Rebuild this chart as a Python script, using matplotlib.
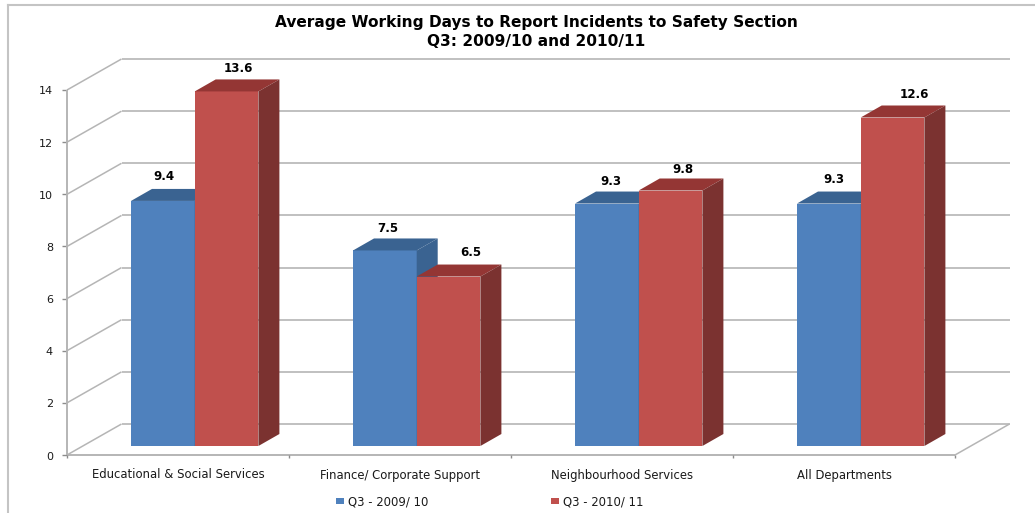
import matplotlib
matplotlib.use("Agg")
import matplotlib.pyplot as plt
from matplotlib.patches import Polygon, Rectangle
from matplotlib.lines import Line2D

plt.rcParams['font.family'] = ['DejaVu Sans']

categories = ["Educational & Social Services", "Finance/ Corporate Support",
              "Neighbourhood Services", "All Departments"]
series_names = ["Q3 - 2009/ 10", "Q3 - 2010/ 11"]
q3_2009 = [9.4, 7.5, 9.3, 9.3]
q3_2010 = [13.6, 6.5, 9.8, 12.6]
y_ticks = [0, 2, 4, 6, 8, 10, 12, 14]
title = "Average Working Days to Report Incidents to Safety Section\nQ3: 2009/10 and 2010/11"

W, H = 1035, 513
fig = plt.figure(figsize=(W / 100, H / 100), dpi=100, facecolor="white")
L, R, B, T = 67, 955, 455, 90
ax = fig.add_axes([L / W, 1 - B / H, (R - L) / W, (B - T) / H])
ax.set_xlim(0, len(categories))
ax.set_ylim(0, 14)
ax.patch.set_visible(False)
for s in ax.spines.values():
    s.set_visible(False)

px_x = len(categories) / (R - L)
px_y = 14 / (B - T)
back_dx, back_dy = 54.5 * px_x, 31 * px_y
bar_dx, bar_dy = 21 * px_x, 12 * px_y
floor_y = 9 * px_y
bar_off = 64 * px_x
bar_w = 63.7 * px_x

# label nudges from bar centre, in pixels (layout only)
lab_dx_a = [1, 3, 4, 5]
lab_dx_b = [12, 22, 12, 22]
lab_dy_a = [12, 10, 10, 12]
lab_dy_b = [11, 12, 9, 11]

GRID = "#b5b5b5"
kw = dict(clip_on=False, solid_capstyle="butt")
for t in y_ticks:
    ax.plot([back_dx, len(categories) + back_dx], [t + back_dy] * 2, color=GRID, lw=1.2, zorder=1, **kw)
    ax.plot([0, back_dx], [t, t + back_dy], color=GRID, lw=1.1, zorder=1, **kw)
    ax.plot([-5 * px_x, 0], [t, t], color="#8c8c8c", lw=1, zorder=1, **kw)
    ax.text(-14 * px_x, t - 1.5 * px_y, str(t), ha="right", va="center", fontsize=8, color="#1a1a1a")
ax.plot([0, 0], [0, 14], color=GRID, lw=1.4, zorder=1, **kw)
ax.plot([0, len(categories)], [0, 0], color=GRID, lw=1.4, zorder=1, **kw)
ax.plot([len(categories), len(categories) + back_dx], [0, back_dy], color=GRID, lw=1.1, zorder=1, **kw)
for i in range(len(categories) + 1):
    ax.plot([i, i], [0, -3 * px_y], color="#8c8c8c", lw=1, zorder=1, **kw)


def bar3d(x, v, front, top, side, z, dx, dy):
    b = floor_y
    ax.add_patch(Rectangle((x, b), bar_w, v, fc=front, ec="none", zorder=z, clip_on=False))
    ax.add_patch(Polygon([(x, b + v), (x + bar_w, b + v), (x + bar_w + bar_dx, b + v + bar_dy),
                          (x + bar_dx, b + v + bar_dy)], fc=top, ec="none", zorder=z, clip_on=False))
    ax.add_patch(Polygon([(x + bar_w, b), (x + bar_w + bar_dx, b + bar_dy),
                          (x + bar_w + bar_dx, b + v + bar_dy), (x + bar_w, b + v)],
                         fc=side, ec="none", zorder=z, clip_on=False))
    ax.text(x + bar_w / 2 + dx * px_x, b + v + (bar_dy + dy * px_y), f"{v:.1f}", ha="center", va="center",
            fontsize=8.6, fontweight="bold", color="black", zorder=10)


for i, c in enumerate(categories):
    bar3d(i + bar_off, q3_2009[i], "#4f81bd", "#3a6391", "#3a6391", 3, lab_dx_a[i], lab_dy_a[i])
    bar3d(i + bar_off + bar_w, q3_2010[i], "#c0504d", "#943634", "#7b3230", 4, lab_dx_b[i], lab_dy_b[i])
    ax.text(i + 0.5, -20 * px_y, c, ha="center", va="center", fontsize=8.4, color="#1a1a1a")

ax.set_xticks([])
ax.set_yticks([])

# chart frame
FR = "#c4c4c4"
for (x0, y0, x1, y1) in [(7.5, 4.5, 1035, 4.5), (7.5, 4.5, 7.5, 513)]:
    fig.add_artist(Line2D([x0 / W, x1 / W], [1 - y0 / H, 1 - y1 / H], color=FR, lw=1.5))

fig.text(536 / W, 1 - 32 / H, title, ha="center", va="center", fontsize=11.1, fontweight="bold",
         color="black", linespacing=1.33)

for x, col, name in [(336, "#4f81bd", series_names[0]), (551, "#c0504d", series_names[1])]:
    fig.add_artist(Rectangle((x / W, 1 - 504 / H), 8 / W, 6 / H, fc=col, ec="none", transform=fig.transFigure))
    fig.text((x + 12) / W, 1 - 502 / H, name, ha="left", va="center", fontsize=8.4, color="#1a1a1a")

fig.savefig("out.png", dpi=100)
